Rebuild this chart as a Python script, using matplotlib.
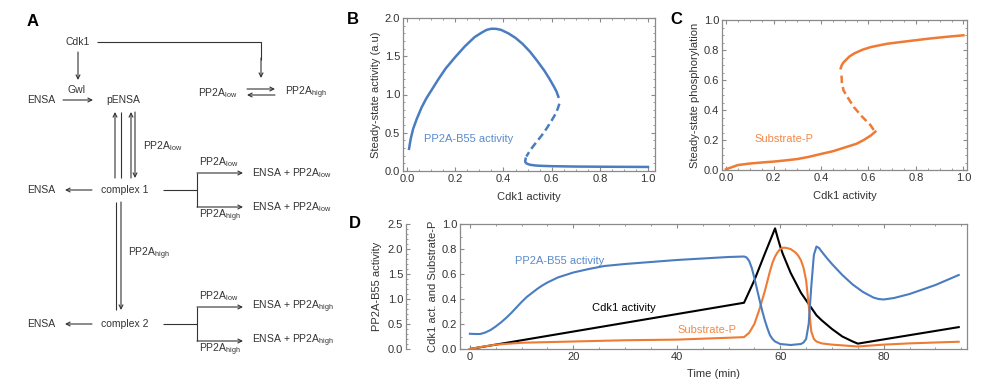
import numpy as np
import matplotlib
matplotlib.use('Agg')
import matplotlib.pyplot as plt
from matplotlib.ticker import MultipleLocator

plt.rcParams['font.family'] = ['Liberation Sans', 'DejaVu Sans']
plt.rcParams['mathtext.fontset'] = 'custom'
plt.rcParams['mathtext.rm'] = 'Liberation Sans'
plt.rcParams['mathtext.it'] = 'Liberation Sans'
plt.rcParams['font.size'] = 7.5

BLUE = '#4a7cc0'
ORANGE = '#ee7a33'
FRAME = '#8a8a8a'
TXT = '#333333'
FS = 8

# ---- panel B: steady state PP2A-B55 vs Cdk1
b_up_x = [0.008, 0.015, 0.025, 0.04, 0.06, 0.08, 0.1, 0.13, 0.16, 0.2, 0.24, 0.28, 0.31, 0.33,
          0.35, 0.37, 0.39, 0.42, 0.45, 0.48, 0.51, 0.54, 0.57, 0.59, 0.61, 0.62, 0.628]
b_up_y = [0.29, 0.42, 0.55, 0.68, 0.83, 0.95, 1.05, 1.2, 1.34, 1.49, 1.63, 1.75, 1.81, 1.845,
          1.86, 1.858, 1.845, 1.80, 1.74, 1.66, 1.56, 1.44, 1.31, 1.21, 1.10, 1.04, 0.97]
b_mid_x = [0.632, 0.626, 0.615, 0.6, 0.58, 0.56, 0.54, 0.52, 0.505, 0.495]
b_mid_y = [0.88, 0.82, 0.74, 0.66, 0.56, 0.47, 0.39, 0.31, 0.24, 0.19]
b_low_x = [0.492, 0.49, 0.491, 0.495, 0.502, 0.51, 0.525, 0.54, 0.57, 0.6, 0.7, 0.85, 1.0]
b_low_y = [0.16, 0.13, 0.115, 0.10, 0.09, 0.082, 0.075, 0.07, 0.066, 0.063, 0.058, 0.055, 0.053]

# ---- panel C: steady state substrate phosphorylation vs Cdk1
c_low_x = [0.0, 0.02, 0.05, 0.1, 0.15, 0.2, 0.25, 0.3, 0.35, 0.4, 0.45, 0.5, 0.55, 0.58, 0.61, 0.629]
c_low_y = [0.005, 0.016, 0.033, 0.043, 0.05, 0.056, 0.064, 0.073, 0.088, 0.107, 0.125, 0.15,
           0.175, 0.2, 0.23, 0.256]
c_mid_x = [0.622, 0.608, 0.573, 0.538, 0.51, 0.495, 0.488, 0.486]
c_mid_y = [0.267, 0.30, 0.356, 0.42, 0.49, 0.53, 0.58, 0.644]
c_up_x = [0.483, 0.487, 0.494, 0.506, 0.52, 0.541, 0.575, 0.611, 0.68, 0.751, 0.85, 0.93, 1.0]
c_up_y = [0.678, 0.697, 0.716, 0.735, 0.757, 0.778, 0.802, 0.82, 0.842, 0.856, 0.875, 0.888, 0.898]

# ---- panel D: time course
t_b55 = [0, 1, 2, 3, 4, 5, 6, 7, 8, 9, 10, 11, 12, 13, 14, 15, 17, 20, 23, 26, 30, 35, 40, 45,
         50, 53, 53.5, 54, 54.5, 55, 55.5, 56, 56.5, 57, 57.5, 58, 58.5, 59, 60, 62, 64, 64.5,
         65, 65.5, 66, 66.5, 67, 67.5, 68, 69, 70, 72, 74, 76, 78, 79, 80, 82, 85, 90, 94.5]
b55 = [0.305, 0.30, 0.30, 0.33, 0.38, 0.45, 0.53, 0.62, 0.72, 0.83, 0.94, 1.04, 1.12, 1.20, 1.27,
       1.33, 1.43, 1.53, 1.60, 1.66, 1.70, 1.74, 1.78, 1.81, 1.84, 1.85, 1.83, 1.76, 1.62, 1.42,
       1.20, 0.98, 0.77, 0.58, 0.42, 0.28, 0.20, 0.15, 0.10, 0.08, 0.10, 0.13, 0.2, 0.5, 1.25,
       1.88, 2.05, 2.02, 1.95, 1.82, 1.70, 1.48, 1.29, 1.14, 1.03, 1.0, 0.99, 1.02, 1.10, 1.28, 1.48]
t_cdk = [0, 53, 55, 57, 59, 59.5, 60, 60.5, 61, 62, 63, 64, 65, 66, 67, 68, 70, 72, 74, 75, 94.5]
cdk = [0, 0.37, 0.55, 0.76, 0.965, 0.89, 0.82, 0.76, 0.71, 0.61, 0.53, 0.45, 0.39, 0.33, 0.27,
       0.23, 0.16, 0.10, 0.06, 0.043, 0.175]
t_sub = [0, 2, 5, 10, 20, 30, 40, 50, 53, 54, 55, 56, 57, 58, 58.5, 59, 59.5, 60, 60.5, 61, 61.5,
         62, 62.5, 63, 63.5, 64, 64.5, 65, 65.5, 66, 66.5, 67, 68, 70, 75, 80, 85, 90, 94.5]
sub = [0, 0.015, 0.035, 0.05, 0.06, 0.07, 0.075, 0.09, 0.095, 0.13, 0.2, 0.32, 0.46, 0.62, 0.69,
       0.74, 0.775, 0.80, 0.81, 0.81, 0.805, 0.80, 0.785, 0.77, 0.745, 0.71, 0.65, 0.55, 0.35,
       0.14, 0.08, 0.06, 0.045, 0.035, 0.02, 0.035, 0.045, 0.052, 0.058]


def frame(ax):
    for s in ax.spines.values():
        s.set_color(FRAME)
        s.set_linewidth(0.9)
    ax.tick_params(which='both', direction='in', top=True, right=True, color=FRAME,
                   labelcolor=TXT, labelsize=FS, pad=2)
    ax.tick_params(which='major', length=3)
    ax.tick_params(which='minor', length=1.5)


fig = plt.figure(figsize=(9.82, 3.90), dpi=100)

# ================= panel A (scheme) =================
axa = fig.add_axes([0, 0, 330 / 982, 1])
axa.set_xlim(0, 330)
axa.set_ylim(390, 0)
axa.axis('off')
kw = dict(fontsize=7.5, color=TXT, va='center')


def arr(x0, y0, x1, y1):
    axa.annotate('', xy=(x1, y1), xytext=(x0, y0),
                 arrowprops=dict(arrowstyle='->', lw=0.8, color=TXT, shrinkA=0, shrinkB=0,
                                 mutation_scale=7))


def ln(xs, ys):
    axa.plot(xs, ys, color=TXT, lw=0.8, solid_capstyle='butt')


axa.text(33, 22, 'A', fontsize=12, fontweight='bold', ha='center', va='center')
axa.text(78, 42, 'Cdk1', ha='center', **kw)
ln([97, 261, 261], [42, 42, 60])
arr(261, 58, 261, 78)
arr(78, 52, 78, 80)
axa.text(41, 100, 'ENSA', ha='center', **kw)
axa.text(77, 90, 'Gwl', ha='center', **kw)
arr(63, 100, 93, 100)
axa.text(123, 100, 'pENSA', ha='center', **kw)
axa.text(198, 93, r'PP2A$_{\rm low}$', ha='left', **kw)
arr(247, 89, 275, 89)
arr(275, 95, 247, 95)
axa.text(285, 93, r'PP2A$_{\rm high}$', ha='left', **kw)

# pENSA <-> complex 1
arr(115, 178, 115, 112)
ln([121, 121], [112, 178])
arr(131, 178, 131, 112)
arr(135, 112, 135, 178)
axa.text(143, 146, r'PP2A$_{\rm low}$', ha='left', **kw)

for yc, prod in [(190, r'ENSA + PP2A$_{\rm low}$'), (324, r'ENSA + PP2A$_{\rm high}$')]:
    axa.text(125, yc, 'complex %d' % (1 if yc < 200 else 2), ha='center', **kw)
    axa.text(41, yc, 'ENSA', ha='center', **kw)
    arr(92, yc, 65, yc)
    ln([163, 197], [yc, yc])
    ln([197, 197], [yc - 17, yc + 17])
    arr(197, yc - 17, 243, yc - 17)
    arr(197, yc + 17, 243, yc + 17)
    axa.text(199, yc - 28, r'PP2A$_{\rm low}$', ha='left', **kw)
    axa.text(199, yc + 26, r'PP2A$_{\rm high}$', ha='left', **kw)
    axa.text(252, yc - 17, prod, ha='left', **kw)
    axa.text(252, yc + 17, prod, ha='left', **kw)

# complex 1 -> complex 2
ln([116, 116], [202, 310])
arr(121, 202, 121, 310)
axa.text(128, 254, r'PP2A$_{\rm high}$', ha='left', **kw)

# ================= panel B =================
axb = fig.add_axes([403 / 982, 1 - 171 / 390, 252 / 982, 153 / 390])
axb.plot(b_up_x, b_up_y, color=BLUE, lw=1.8)
axb.plot(b_mid_x, b_mid_y, color=BLUE, lw=1.8, ls=(0, (3, 1.6)))
axb.plot(b_low_x, b_low_y, color=BLUE, lw=1.8)
axb.set_xlim(-0.017, 1.029)
axb.set_ylim(0, 2.0)
axb.xaxis.set_major_locator(MultipleLocator(0.2))
axb.xaxis.set_minor_locator(MultipleLocator(0.05))
axb.yaxis.set_major_locator(MultipleLocator(0.5))
axb.yaxis.set_minor_locator(MultipleLocator(0.1))
axb.xaxis.set_major_formatter(lambda v, p: '%.1f' % v)
axb.yaxis.set_major_formatter(lambda v, p: '%.1f' % v)
frame(axb)
axb.set_xlabel('Cdk1 activity', fontsize=FS, color=TXT, labelpad=6)
axb.set_ylabel('Steady-state activity (a.u)', fontsize=FS, color=TXT, labelpad=3)
axb.text(0.07, 0.42, 'PP2A-B55 activity', color='#5a8bcc', fontsize=FS, va='center')
fig.text(353 / 982, 1 - 20 / 390, 'B', fontsize=12, fontweight='bold', ha='center', va='center')

# ================= panel C =================
axc = fig.add_axes([722 / 982, 1 - 170 / 390, 245 / 982, 150 / 390])
axc.plot(c_low_x, c_low_y, color=ORANGE, lw=1.8)
axc.plot(c_mid_x, c_mid_y, color=ORANGE, lw=1.8, ls=(0, (3, 1.6)))
axc.plot(c_up_x, c_up_y, color=ORANGE, lw=1.8)
axc.set_xlim(-0.017, 1.015)
axc.set_ylim(0, 1.0)
axc.xaxis.set_major_locator(MultipleLocator(0.2))
axc.xaxis.set_minor_locator(MultipleLocator(0.05))
axc.yaxis.set_major_locator(MultipleLocator(0.2))
axc.yaxis.set_minor_locator(MultipleLocator(0.05))
axc.xaxis.set_major_formatter(lambda v, p: '%.1f' % v)
axc.yaxis.set_major_formatter(lambda v, p: '%.1f' % v)
frame(axc)
axc.set_xlabel('Cdk1 activity', fontsize=FS, color=TXT, labelpad=6)
axc.set_ylabel('Steady-state phosphorylation', fontsize=FS, color=TXT, labelpad=3)
axc.text(0.12, 0.21, 'Substrate-P', color='#f08a4b', fontsize=FS, va='center')
fig.text(676 / 982, 1 - 20 / 390, 'C', fontsize=12, fontweight='bold', ha='center', va='center')

# ================= panel D =================
axd = fig.add_axes([460 / 982, 1 - 349 / 390, 507 / 982, 125 / 390])
axd.plot(t_cdk, cdk, color='black', lw=1.5)
axd.plot(t_sub, sub, color=ORANGE, lw=1.5)
axd.set_xlim(-1.9, 96.1)
axd.set_ylim(0, 1.0)
axd.xaxis.set_major_locator(MultipleLocator(20))
axd.xaxis.set_minor_locator(MultipleLocator(5))
axd.yaxis.set_major_locator(MultipleLocator(0.2))
axd.yaxis.set_minor_locator(MultipleLocator(0.1))
axd.yaxis.set_major_formatter(lambda v, p: '%.1f' % v)
frame(axd)
axd.set_xlabel('Time (min)', fontsize=FS, color=TXT, labelpad=5)
axd.set_ylabel('Cdk1 act. and Substrate-P', fontsize=FS, color=TXT, labelpad=3)

ax2 = axd.twinx()
ax2.plot(t_b55, b55, color=BLUE, lw=1.5)
ax2.set_ylim(0, 2.5)
for s in ['right', 'top', 'bottom']:
    ax2.spines[s].set_visible(False)
ax2.spines['left'].set_visible(True)
ax2.spines['left'].set_position(('outward', 39))
ax2.spines['left'].set_color(FRAME)
ax2.spines['left'].set_linewidth(0.9)
ax2.yaxis.set_ticks_position('left')
ax2.yaxis.set_label_position('left')
ax2.yaxis.set_major_locator(MultipleLocator(0.5))
ax2.yaxis.set_minor_locator(MultipleLocator(0.1))
ax2.yaxis.set_major_formatter(lambda v, p: '%.1f' % v)
ax2.tick_params(axis='y', which='both', direction='in', color=FRAME, labelcolor=TXT,
                labelsize=FS, pad=2)
ax2.tick_params(axis='y', which='major', length=3)
ax2.tick_params(axis='y', which='minor', length=1.5)
ax2.set_ylabel('PP2A-B55 activity', fontsize=FS, color=TXT, labelpad=4)

axd.text(8.7, 0.70, 'PP2A-B55 activity', color='#5a8bcc', fontsize=FS, va='center')
axd.text(23.6, 0.33, 'Cdk1 activity', color='black', fontsize=FS, va='center')
axd.text(40.2, 0.15, 'Substrate-P', color='#f08a4b', fontsize=FS, va='center')
fig.text(355 / 982, 1 - 223 / 390, 'D', fontsize=12, fontweight='bold', ha='center', va='center')

fig.savefig('out.png', dpi=100)
